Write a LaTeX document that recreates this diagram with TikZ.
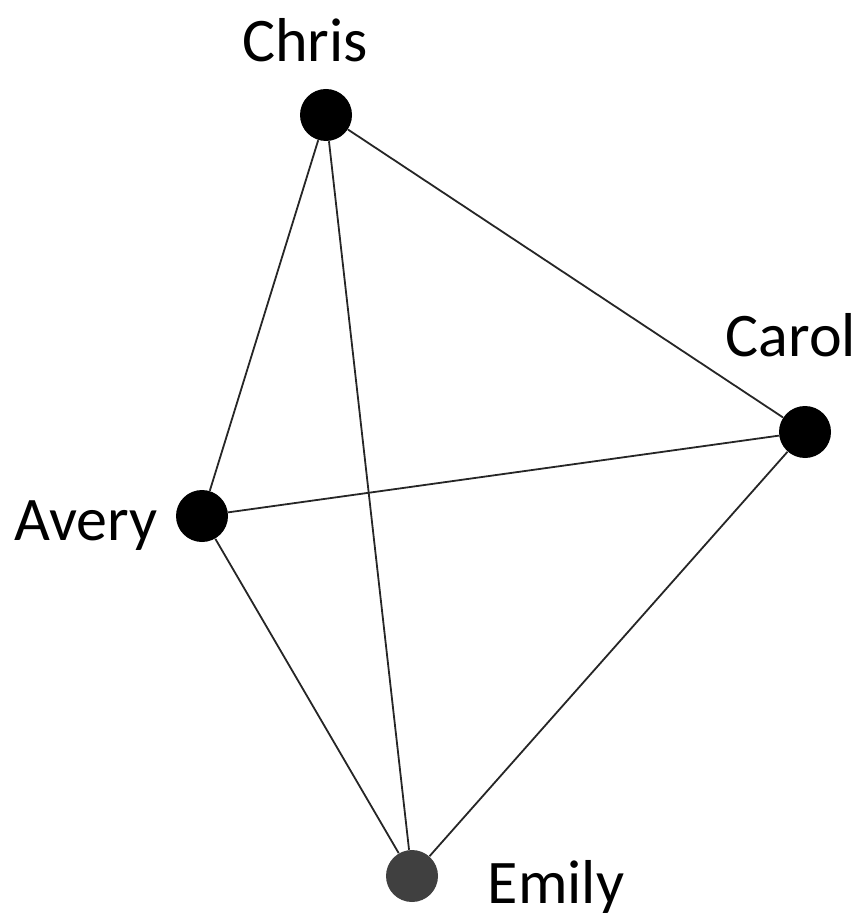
\documentclass[tikz,border=0pt]{standalone}
\usepackage{fontspec}
\setmainfont{Carlito}
\usetikzlibrary{positioning}
\definecolor{mygray}{HTML}{404040}
\tikzset{
	personnode/.style={
			circle,
			draw=none,
			fill=black,
			minimum size=26pt,
			inner sep=0pt
		},
	lastnode/.style={
			personnode,
			fill=mygray
		},
	namenode/.style={
			inner sep=0pt,
			anchor=base,
			font=\fontsize{31}{37}\selectfont
		},
	tie/.style={
			line width=0.9pt,
			draw=black!85
		}
}
\begin{document}
\begin{tikzpicture}[x=0.5pt, y=-0.5pt]
				\useasboundingbox (0,0) rectangle (864,924);
				\node[personnode] at (326,115) (chris) {};
				\node[personnode] at (805,432) (carol) {};
				\node[personnode] at (202,516) (avery) {};
				\node[lastnode] at (412,876) (emily) {};
				\node[namenode] at (305,62) (chrisname) {Chris};
				\node[namenode] at (791,357) (carolname) {Carol};
				\node[namenode] at (86,540) (averyname) {Avery};
				\node[namenode] at (556,903) (emilyname) {Emily};
				\begin{scope}[on background layer/.try]
				\draw[tie] (chris) -- (avery);
				\draw[tie] (chris) -- (emily);
				\draw[tie] (chris) -- (carol);
				\draw[tie] (avery) -- (carol);
				\draw[tie] (avery) -- (emily);
				\draw[tie] (carol) -- (emily);
				\end{scope}
			\end{tikzpicture}
\end{document}
